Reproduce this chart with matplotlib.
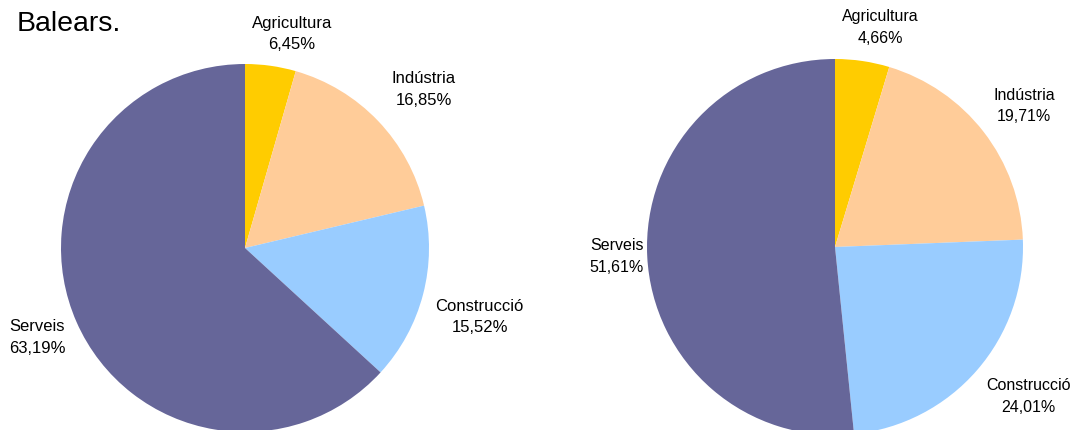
import matplotlib
matplotlib.use("Agg")
import matplotlib.pyplot as plt
from matplotlib.transforms import Bbox, TransformedBbox

plt.rcParams['font.family'] = ['Liberation Sans', 'DejaVu Sans']

# Sectors and shares (wedge sizes, labels as printed)
sectors = ['Agricultura', 'Indústria', 'Construcció', 'Serveis']
colors = ['#FFCC00', '#FFCC99', '#99CCFF', '#666699']

left_sizes = [4.45, 16.85, 15.52, 63.19]
left_labels = ['6,45%', '16,85%', '15,52%', '63,19%']

right_sizes = [4.66, 19.71, 24.01, 51.61]
right_labels = ['4,66%', '19,71%', '24,01%', '51,61%']

W, H = 1072, 430
fig = plt.figure(figsize=(W / 100, H / 100), dpi=100)


def pie_axes(cx, cy, r):
    # cx, cy, r in pixels (y from top)
    return fig.add_axes([(cx - r) / W, (H - cy - r) / H, 2 * r / W, 2 * r / H])


def draw_pie(ax, sizes, pcts, label_pos, fs, clip_right=None):
    ax.pie(sizes, colors=colors, startangle=90, counterclock=False,
           wedgeprops=dict(linewidth=0))
    ax.set_xlim(-1, 1)
    ax.set_ylim(-1, 1)
    ax.set_aspect('auto')
    ax.axis('off')
    for name, pct, (x, y) in zip(sectors, pcts, label_pos):
        t = ax.text(x, y, f'{name}\n{pct}', ha='center', va='center',
                    fontsize=fs, linespacing=1.58, color='black')
        if clip_right is not None:
            t.set_clip_box(TransformedBbox(Bbox([[0, 0], [clip_right / W, 1]]),
                                           fig.transFigure))
            t.set_clip_on(True)


ax1 = pie_axes(245, 248, 184)
draw_pie(ax1, left_sizes, left_labels,
         [(0.255, 1.163), (0.973, 0.864), (1.275, -0.375), (-1.13, -0.489)],
         fs=12, clip_right=524)

ax2 = pie_axes(835, 247, 188)
draw_pie(ax2, right_sizes, right_labels,
         [(0.239, 1.165), (1.005, 0.75), (1.027, -0.793), (-1.16, -0.053)],
         fs=11.5)

fig.text(17 / W, 1 - 24 / H, 'Balears.', fontsize=20.5, ha='left', va='center')

fig.savefig('out.png', dpi=100)
